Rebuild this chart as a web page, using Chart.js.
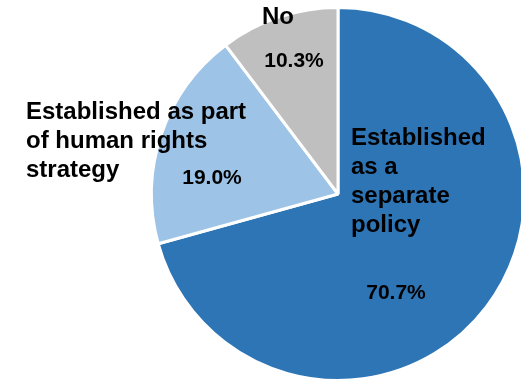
<!DOCTYPE html>
<html>
<head>
<meta charset="utf-8">
<script src="https://cdn.jsdelivr.net/npm/chart.js@4"></script>
<style>
    html, body { margin: 0; padding: 0; background: #fff; overflow: hidden; }
    #wrap { position: relative; width: 521px; height: 383px; overflow: hidden; }
    #myChart { position: absolute; left: 0; top: 0; }
</style>
</head>
<body>
<div id="wrap"><canvas id="myChart" width="676" height="383"></canvas></div>
<script>
const categories = [
    ["Established", "as a", "separate", "policy"],
    ["Established as part", "of human rights", "strategy"],
    ["No"]
];
const shares = [70.7, 19.0, 10.3];
const colors = ["#2E75B6", "#9DC3E6", "#BFBFBF"];

// position des textes, en pixels par rapport au centre du camembert
const namePos = [{ dx: 13, dy: -56 }, { dx: -312, dy: -82 }, { dx: -76, dy: -177 }];
const valuePos = [{ dx: 58, dy: 99 }, { dx: -126, dy: -16 }, { dx: -44, dy: -133 }];

const labelsPlugin = {
    id: "pieLabels",
    afterDraw(chart) {
        const ctx = chart.ctx;
        const arcs = chart.getDatasetMeta(0).data;
        ctx.save();
        ctx.fillStyle = "#000";
        ctx.textBaseline = "middle";
        arcs.forEach(function (arc, i) {
            ctx.font = "bold 24px 'Liberation Sans', Arial, sans-serif";
            ctx.textAlign = "left";
            categories[i].forEach(function (line, k) {
                ctx.fillText(line, arc.x + namePos[i].dx, arc.y + namePos[i].dy + k * 29);
            });
            ctx.font = "bold 21px 'Liberation Sans', Arial, sans-serif";
            ctx.textAlign = "center";
            ctx.fillText(shares[i].toFixed(1) + "%", arc.x + valuePos[i].dx, arc.y + valuePos[i].dy);
        });
        ctx.restore();
    }
};

const ctx = document.getElementById("myChart").getContext("2d");

new Chart(ctx, {
    type: "pie",
    data: {
        labels: categories.map(function (c) { return c.join(" "); }),
        datasets: [{
            data: shares,
            backgroundColor: colors,
            borderColor: "#fff",
            borderWidth: 3
        }]
    },
    options: {
        responsive: false,
        animation: false,
        layout: {
            padding: { top: 6, bottom: 1, left: 0, right: 0 }
        },
        plugins: {
            legend: { display: false },
            tooltip: { enabled: false }
        }
    },
    plugins: [labelsPlugin]
});
</script>
</body>
</html>
